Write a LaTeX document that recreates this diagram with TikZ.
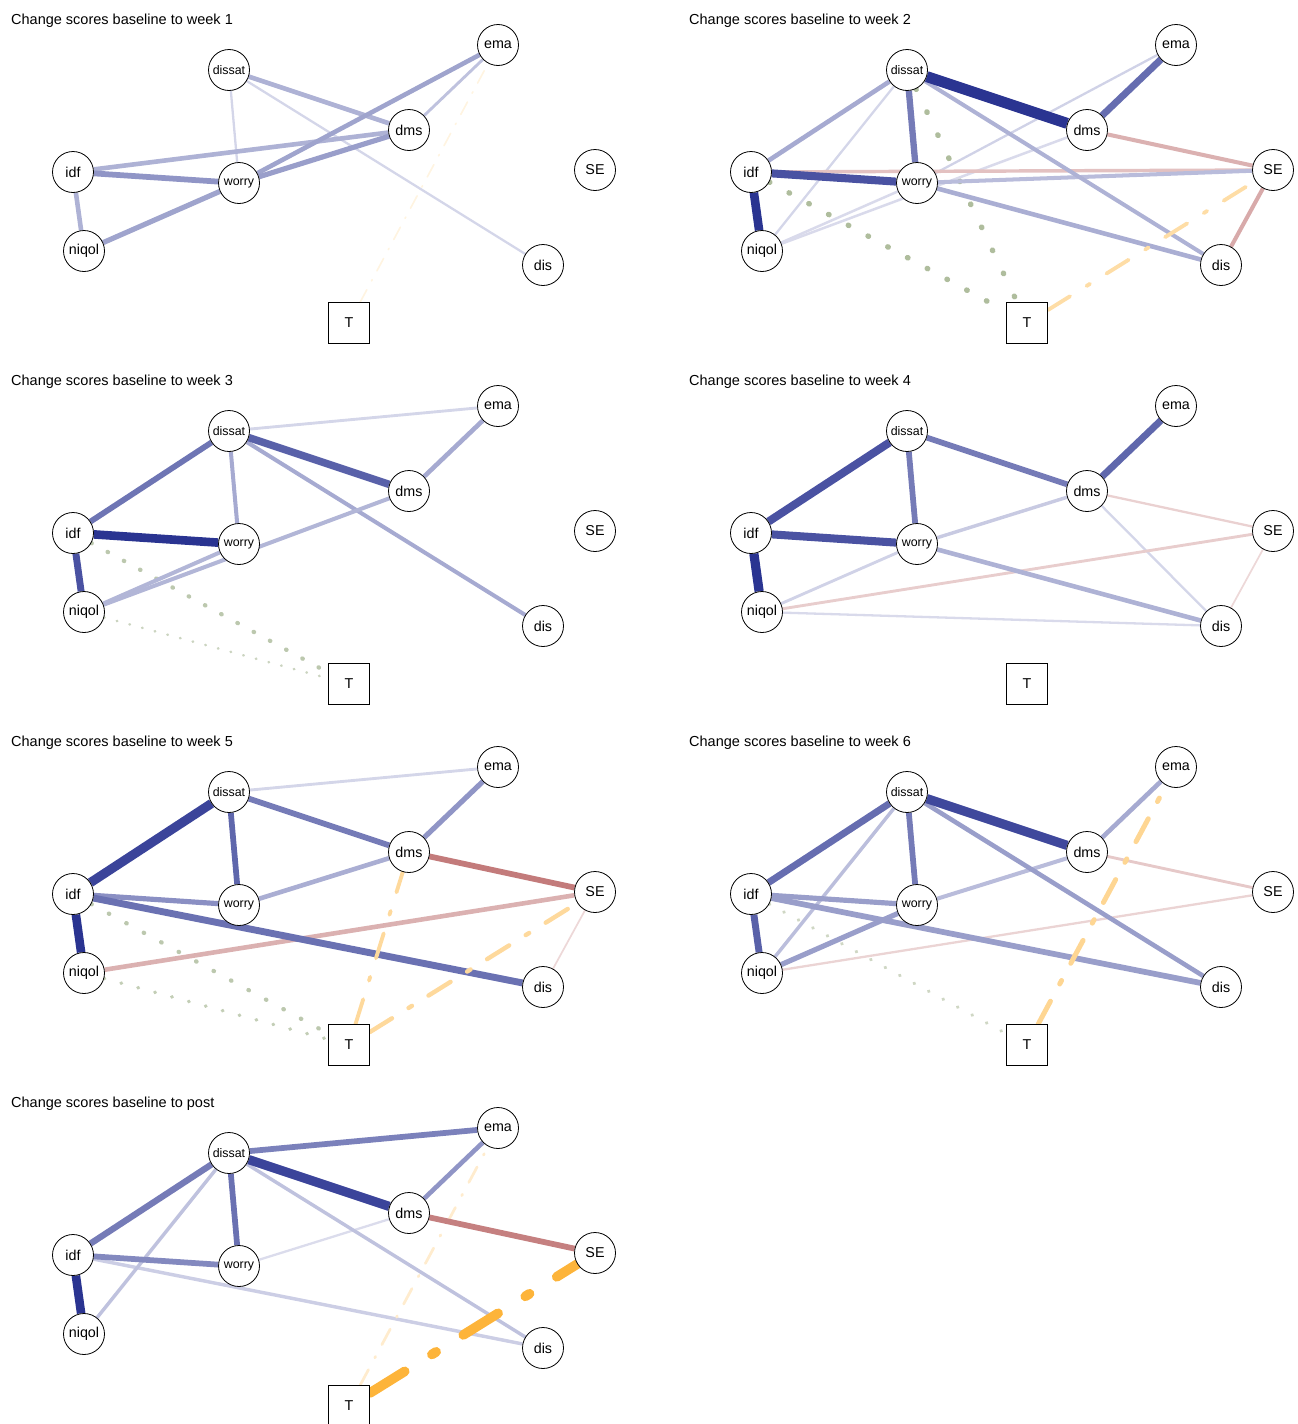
\documentclass[tikz,border=0pt]{standalone}
\usepackage{fontspec}
\setmainfont{Liberation Sans}
\pgfdeclarelayer{edges}
\pgfsetlayers{edges,main}
\definecolor{posc}{RGB}{42,52,145}
\definecolor{negc}{RGB}{184,100,100}
\definecolor{orac}{RGB}{253,180,58}
\definecolor{dotc}{RGB}{140,160,115}
\tikzset{
  nd/.style={circle, draw=black, line width=0.8pt, fill=white, minimum size=41pt,
    inner sep=0pt, font=\fontsize{14.3}{16}\selectfont},
  ndsmall/.style={nd, font=\fontsize{12.4}{14}\selectfont},
  tbox/.style={rectangle, draw=black, line width=0.8pt, fill=white, minimum size=41pt,
    inner sep=0pt, font=\fontsize{14.3}{16}\selectfont},
  ttl/.style={anchor=base west, inner sep=0pt, font=\fontsize{14.5}{17}\selectfont},
  pe/.style 2 args={draw=posc!#1!white, line width={1.15*#2pt}},
  ne/.style 2 args={draw=negc!#1!white, line width={1.15*#2pt}},
  oe/.style 2 args={draw=orac!#1!white, line width={1.1*#2pt}, line cap=round},
  de/.style n args={3}{draw=dotc!#1!white, line width=#2pt, line cap=round,
    dash pattern=on 0.5pt off #3pt},
  ddthin/.style={dash pattern=on 14pt off 10pt on 1.5pt off 10pt},
  ddlight/.style={dash pattern=on 17.5pt off 13.5pt on 1.5pt off 13.5pt},
  ddmid/.style={dash pattern=on 26pt off 19.5pt on 4pt off 19.5pt},
  ddheavy/.style={dash pattern=on 41pt off 32pt on 5pt off 32pt},
}
% the nine variables of one network, placed relative to the panel origin
\newcommand\netnodes[3]{%
  \node[ndsmall] (#1dissat) at (#2+229,#3+70) {dissat};
  \node[nd] (#1ema) at (#2+498,#3+45) {ema};
  \node[nd] (#1dms) at (#2+409,#3+130) {dms};
  \node[nd] (#1SE) at (#2+595,#3+170) {SE};
  \node[nd] (#1idf) at (#2+73,#3+172) {idf};
  \node[ndsmall] (#1worry) at (#2+239,#3+183) {worry};
  \node[nd] (#1niqol) at (#2+84,#3+251) {niqol};
  \node[nd] (#1dis) at (#2+543,#3+265) {dis};
  \node[tbox] (#1T) at (#2+349,#3+323) {T};
}
\begin{document}
\begin{tikzpicture}[x=1pt,y=-1pt]
\useasboundingbox (0,0) rectangle (1298,1424);
\clip (0,0) rectangle (1298,1424);

% ---------- titles ----------
\node[ttl] (t1) at (11,24) {Change scores baseline to week 1};
\node[ttl] (t2) at (689,24) {Change scores baseline to week 2};
\node[ttl] (t3) at (11,385) {Change scores baseline to week 3};
\node[ttl] (t4) at (689,385) {Change scores baseline to week 4};
\node[ttl] (t5) at (11,746) {Change scores baseline to week 5};
\node[ttl] (t6) at (689,746) {Change scores baseline to week 6};
\node[ttl] (t7) at (11,1107) {Change scores baseline to post};

% ---------- nodes ----------
\netnodes{p1}{0}{0}
\netnodes{p2}{678}{0}
\netnodes{p3}{0}{361}
\netnodes{p4}{678}{361}
\netnodes{p5}{0}{722}
\netnodes{p6}{678}{722}
\netnodes{p7}{0}{1083}

\begin{pgfonlayer}{edges}
% ---------- week 1 ----------
\draw[oe={15}{1.5}, ddthin] (p1T) -- (p1ema);
\draw[pe={20}{2}] (p1dissat) -- (p1worry);
\draw[pe={20}{2}] (p1dissat) -- (p1dis);
\draw[pe={30}{2.5}] (p1ema) -- (p1dms);
\draw[pe={38}{4}] (p1dissat) -- (p1dms);
\draw[pe={38}{4}] (p1idf) -- (p1dms);
\draw[pe={38}{4}] (p1idf) -- (p1niqol);
\draw[pe={45}{4}] (p1ema) -- (p1worry);
\draw[pe={45}{4.5}] (p1niqol) -- (p1worry);
\draw[pe={48}{4.5}] (p1worry) -- (p1dms);
\draw[pe={52}{5}] (p1idf) -- (p1worry);

% ---------- week 2 ----------
\draw[de={70}{5.5}{25}] (p2dissat) -- (p2T);
\draw[de={70}{5.5}{22}] (p2idf) -- (p2T);
\draw[pe={20}{2}] (p2dissat) -- (p2niqol);
\draw[pe={22}{2}] (p2ema) -- (p2worry);
\draw[pe={18}{2.2}] (p2niqol) -- (p2worry);
\draw[pe={18}{2.2}] (p2niqol) -- (p2dms);
\draw[ne={40}{3}] (p2idf) -- (p2SE);
\draw[pe={33}{3.5}] (p2worry) -- (p2SE);
\draw[pe={38}{3.5}] (p2dissat) -- (p2dis);
\draw[pe={40}{4}] (p2worry) -- (p2dis);
\draw[ne={50}{3.5}] (p2dms) -- (p2SE);
\draw[ne={55}{3.5}] (p2SE) -- (p2dis);
\draw[pe={42}{4}] (p2dissat) -- (p2idf);
\draw[pe={65}{5.5}] (p2dissat) -- (p2worry);
\draw[pe={72}{6}] (p2ema) -- (p2dms);
\draw[pe={85}{7}] (p2idf) -- (p2worry);
\draw[pe={100}{7.5}] (p2idf) -- (p2niqol);
\draw[pe={100}{9.5}] (p2dissat) -- (p2dms);
\draw[oe={45}{3.5}, ddmid] (p2T) -- (p2SE);

% ---------- week 3 ----------
\draw[de={45}{2.6}{12.6}] (p3niqol) -- (p3T);
\draw[de={58}{4.3}{18}] (p3idf) -- (p3T);
\draw[pe={20}{2.5}] (p3dissat) -- (p3ema);
\draw[pe={42}{3.5}] (p3dissat) -- (p3worry);
\draw[pe={42}{3.5}] (p3dissat) -- (p3dis);
\draw[pe={36}{3.5}] (p3worry) -- (p3niqol);
\draw[pe={36}{3.5}] (p3dms) -- (p3niqol);
\draw[pe={42}{4}] (p3ema) -- (p3dms);
\draw[pe={68}{5}] (p3dissat) -- (p3idf);
\draw[pe={78}{6.5}] (p3dissat) -- (p3dms);
\draw[pe={85}{6}] (p3idf) -- (p3niqol);
\draw[pe={100}{7.5}] (p3idf) -- (p3worry);

% ---------- week 4 ----------
\draw[ne={25}{1.5}] (p4SE) -- (p4dis);
\draw[pe={18}{2}] (p4niqol) -- (p4dis);
\draw[pe={20}{2}] (p4dms) -- (p4dis);
\draw[ne={30}{2}] (p4dms) -- (p4SE);
\draw[ne={32}{2.5}] (p4niqol) -- (p4SE);
\draw[pe={22}{2.5}] (p4worry) -- (p4niqol);
\draw[pe={26}{3}] (p4worry) -- (p4dms);
\draw[pe={38}{4}] (p4worry) -- (p4dis);
\draw[pe={65}{5}] (p4dissat) -- (p4worry);
\draw[pe={65}{5}] (p4dissat) -- (p4dms);
\draw[pe={75}{6}] (p4ema) -- (p4dms);
\draw[pe={85}{7}] (p4dissat) -- (p4idf);
\draw[pe={85}{7}] (p4idf) -- (p4worry);
\draw[pe={100}{8}] (p4idf) -- (p4niqol);

% ---------- week 5 ----------
\draw[de={52}{3.6}{17}] (p5niqol) -- (p5T);
\draw[de={58}{4.3}{19.4}] (p5idf) -- (p5T);
\draw[ne={25}{1.5}] (p5SE) -- (p5dis);
\draw[pe={20}{2.5}] (p5dissat) -- (p5ema);
\draw[pe={40}{4}] (p5dms) -- (p5worry);
\draw[ne={50}{4}] (p5niqol) -- (p5SE);
\draw[pe={52}{4.5}] (p5ema) -- (p5dms);
\draw[pe={55}{4.5}] (p5idf) -- (p5worry);
\draw[pe={65}{5}] (p5dissat) -- (p5dms);
\draw[pe={75}{5}] (p5dissat) -- (p5worry);
\draw[pe={70}{6}] (p5idf) -- (p5dis);
\draw[ne={85}{5}] (p5dms) -- (p5SE);
\draw[pe={92}{8}] (p5dissat) -- (p5idf);
\draw[pe={100}{7.5}] (p5idf) -- (p5niqol);
\draw[oe={50}{3.5}, ddmid] (p5T) -- (p5dms);
\draw[oe={50}{4}, ddmid] (p5T) -- (p5SE);

% ---------- week 6 ----------
\draw[de={42}{3.4}{16}] (p6idf) -- (p6T);
\draw[ne={28}{2}] (p6niqol) -- (p6SE);
\draw[ne={35}{2.5}] (p6dms) -- (p6SE);
\draw[pe={32}{3}] (p6dissat) -- (p6niqol);
\draw[pe={33}{3.5}] (p6dms) -- (p6worry);
\draw[pe={42}{4}] (p6ema) -- (p6dms);
\draw[pe={48}{4}] (p6dissat) -- (p6dis);
\draw[pe={48}{4.5}] (p6idf) -- (p6worry);
\draw[pe={48}{4.5}] (p6niqol) -- (p6worry);
\draw[pe={48}{5}] (p6idf) -- (p6dis);
\draw[pe={65}{5}] (p6dissat) -- (p6worry);
\draw[pe={72}{6}] (p6dissat) -- (p6idf);
\draw[pe={78}{6}] (p6idf) -- (p6niqol);
\draw[pe={90}{8}] (p6dissat) -- (p6dms);
\draw[oe={55}{4.5}, ddmid] (p6T) -- (p6ema);

% ---------- post ----------
\draw[pe={17}{2}] (p7dms) -- (p7worry);
\draw[pe={24}{3}] (p7idf) -- (p7dis);
\draw[pe={30}{3}] (p7dissat) -- (p7niqol);
\draw[pe={30}{3}] (p7dissat) -- (p7dis);
\draw[pe={52}{4}] (p7ema) -- (p7dms);
\draw[oe={25}{2.5}, ddlight] (p7T) -- (p7ema);
\draw[pe={58}{5}] (p7idf) -- (p7worry);
\draw[pe={62}{5}] (p7dissat) -- (p7ema);
\draw[pe={65}{5.5}] (p7dissat) -- (p7idf);
\draw[pe={70}{5}] (p7dissat) -- (p7worry);
\draw[ne={82}{5}] (p7dms) -- (p7SE);
\draw[pe={92}{8}] (p7dissat) -- (p7dms);
\draw[pe={100}{7.5}] (p7idf) -- (p7niqol);
\draw[oe={100}{8.8}, ddheavy] (p7T) -- (p7SE);
\end{pgfonlayer}
\end{tikzpicture}
\end{document}
